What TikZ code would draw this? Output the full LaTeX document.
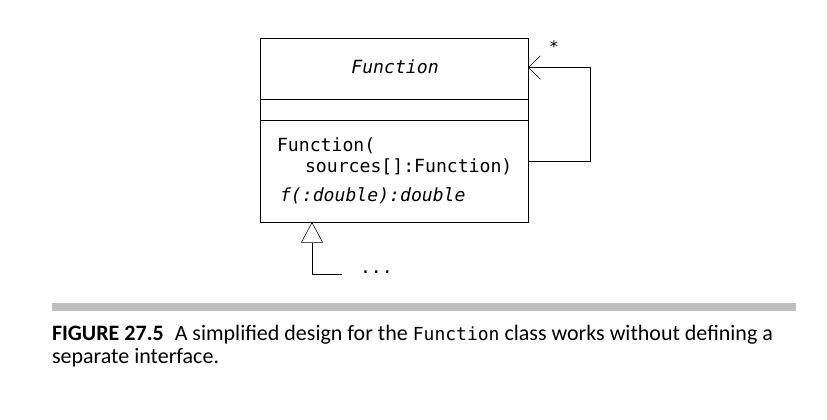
\documentclass[tikz,border=0pt]{standalone}
\usepackage{fontspec}
\setmonofont{DejaVu Sans Mono}
\newfontfamily\capfont{Carlito}
\usetikzlibrary{arrows.meta}
\definecolor{barGray}{RGB}{190,190,190}

\begin{document}
\begin{tikzpicture}[x=0.75pt, y=-0.75pt, every node/.style={inner sep=0pt, outer sep=0pt},
  classbox/.style={draw, rectangle, minimum width=201pt, minimum height=138pt},
  mono/.style={font=\fontsize{13.6}{16}\ttfamily, anchor=base west},
  assoc/.style={-{Straight Barb[length=9pt, width=17.5pt]}},
  gen/.style={-{Triangle[open, length=15.5pt, width=16.5pt]}},
  captxt/.style={font=\fontsize{16.5}{20}\capfont, anchor=base west}]
\useasboundingbox (0,0) rectangle (827,420);

% Class box with compartments
\node[classbox] (fn) at (394,130) {};
\draw (fn.west |- 0,99) -- (fn.east |- 0,99);
\draw (fn.west |- 0,120) -- (fn.east |- 0,120);

% Texts
\node[mono, anchor=base] (title) at (395,73.3) {\itshape Function};
\node[mono] (ctor1) at (277,151.7) {Function(};
\node[mono] (ctor2) at (305,172.7) {sources[]:Function)};
\node[mono] (meth) at (280,201.5) {\itshape f(:double):double};

% Self association
\coordinate (selfout) at (528,161);
\coordinate (selfin) at (528,67.5);
\draw[assoc] (selfout) -- ++(62,0) |- (selfin);
\node[mono, anchor=base, font=\fontsize{12}{14}\ttfamily] (mult) at (554,53) {*};

% Generalization
\coordinate (sub) at (342,274);
\draw[gen] (sub) -| (fn.south -| 312,0);
\node[mono] (more) at (360,273) {...};

% Caption
\fill[barGray] (52,303.3) rectangle (796,310.7);
\node[captxt] (cap1) at (52,340) {\textbf{FIGURE 27.5}\enspace A simplified design for the {\ttfamily\fontsize{13.5}{16}\selectfont Function} class works without defining a};
\node[captxt] (cap2) at (52,363.3) {separate interface.};
\end{tikzpicture}
\end{document}
